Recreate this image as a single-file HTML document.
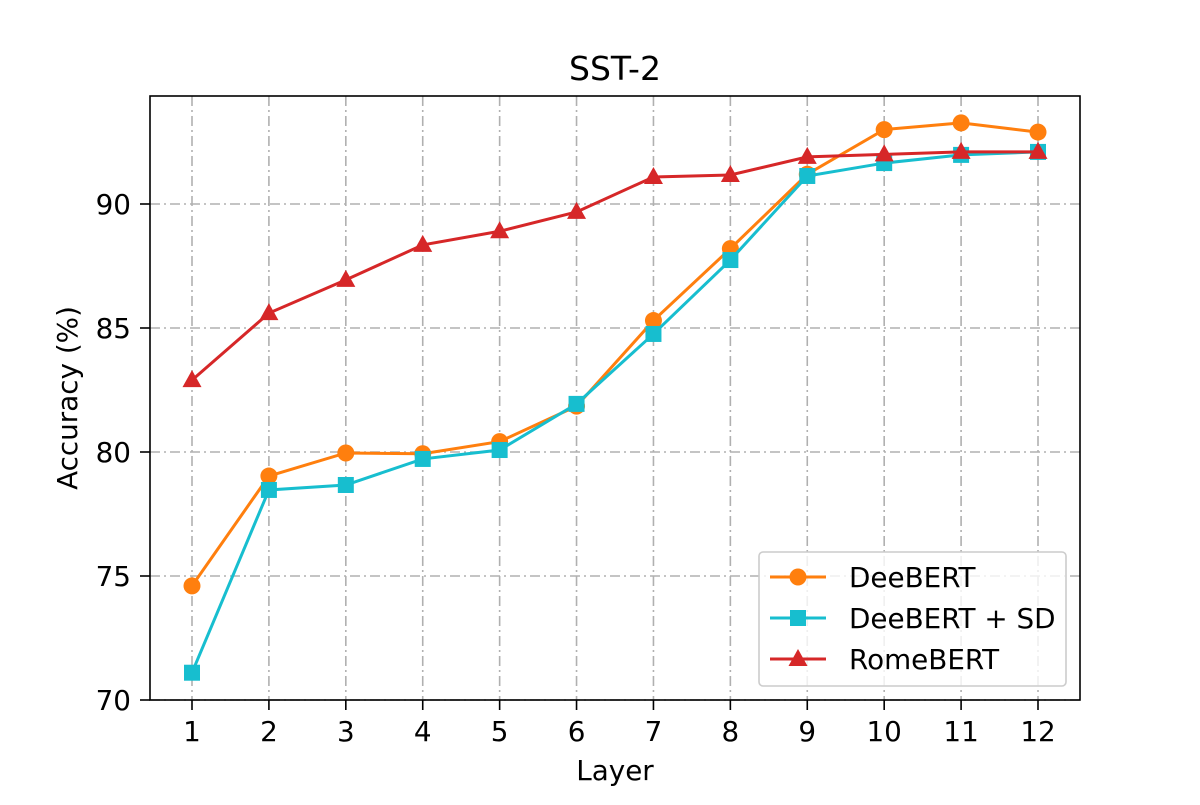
<!DOCTYPE html>
<html><head><meta charset="utf-8"><style>
body{margin:0;background:#fff;}
svg text{font-family:"DejaVu Sans","Liberation Sans",sans-serif;fill:#000;}
</style></head><body>
<svg id="chart" width="1200" height="800" viewBox="0 0 1200 800" xmlns="http://www.w3.org/2000/svg">
<rect width="1200" height="800" fill="#fff"/>
<g id="grid"></g>
<g id="series"></g>
<rect x="150" y="96" width="930" height="604" fill="none" stroke="#000" stroke-width="1.6"/>
<g id="ticks"></g>
<text x="615" y="80" font-size="33" text-anchor="middle">SST-2</text>
<text x="615" y="780" font-size="27.8" text-anchor="middle">Layer</text>
<text x="77" y="398" font-size="27.8" text-anchor="middle" transform="rotate(-90 77 398)">Accuracy (%)</text>
<g id="legend"></g>
</svg>
<script>
const layers=[1,2,3,4,5,6,7,8,9,10,11,12];
const yTicks=[70,75,80,85,90];
const deebert=[74.6,79.03,79.96,79.93,80.42,81.85,85.3,88.2,91.2,93.0,93.27,92.9];
const deebertSD=[71.1,78.47,78.67,79.72,80.08,81.94,84.76,87.74,91.13,91.65,91.98,92.1];
const romebert=[82.9,85.6,86.94,88.35,88.9,89.68,91.09,91.17,91.9,92.0,92.1,92.1];
const seriesNames=["DeeBERT","DeeBERT + SD","RomeBERT"];
const NS="http://www.w3.org/2000/svg";
const X=v=>192+(v-1)*(1038-192)/11;
const Y=v=>700-(v-70)*24.8;
function mk(t,a,p){const e=document.createElementNS(NS,t);for(const k in a)e.setAttribute(k,a[k]);p.appendChild(e);return e;}
const grid=document.getElementById('grid'),ticks=document.getElementById('ticks');
layers.forEach(l=>{
 const g=mk('line',{x1:X(l),x2:X(l),y1:96,y2:700,stroke:'#b0b0b0','stroke-width':1.6,'stroke-dasharray':'10 4 2 4'},grid);
 
 
 const t=mk('line',{x1:X(l),x2:X(l),y1:700,y2:710,stroke:'#000','stroke-width':1.6},ticks);
 
 
 const tx=mk('text',{x:X(l),y:741,'font-size':27.8,'text-anchor':'middle'},ticks);tx.textContent=l;
 
 
});
yTicks.forEach(v=>{
 const g=mk('line',{x1:150,x2:1080,y1:Y(v),y2:Y(v),stroke:'#b0b0b0','stroke-width':1.6,'stroke-dasharray':'10 4 2 4'},grid);
 
 
 const t=mk('line',{x1:140,x2:150,y1:Y(v),y2:Y(v),stroke:'#000','stroke-width':1.6},ticks);
 
 
 const tx=mk('text',{x:131,y:Y(v)+10,'font-size':27.8,'text-anchor':'end'},ticks);tx.textContent=v;
 
 
});
const colors=['#ff7f0e','#17becf','#d62728'];
const datas=[deebert,deebertSD,romebert];
const shapes=['circle','square','triangle'];
function marker(shape,x,y,c,p){
 let e;
 if(shape==='circle')e=mk('circle',{cx:x,cy:y,r:8.5,fill:c},p);
 else if(shape==='square')e=mk('rect',{x:x-8,y:y-8,width:16,height:16,fill:c},p);
 else e=mk('polygon',{points:`${x},${y-10} ${x+9.5},${y+7} ${x-9.5},${y+7}`,fill:c},p);
 return e;
}
const sg=document.getElementById('series');
datas.forEach((d,i)=>{
 const g=mk('g',{},sg);
 
 
 const pl=mk('polyline',{points:d.map((v,j)=>X(layers[j])+','+Y(v)).join(' '),fill:'none',stroke:colors[i],'stroke-width':3},g);
 
 
 d.forEach((v,j)=>{const m=marker(shapes[i],X(layers[j]),Y(v),colors[i],g);
  
  });
});
const lg=document.getElementById('legend');
mk('rect',{x:759,y:552,width:307,height:134,rx:4,fill:'#fff','fill-opacity':0.8,stroke:'#ccc','stroke-width':1.6},lg);
seriesNames.forEach((n,i)=>{
 const y=577+i*41;
 const e=mk('g',{},lg);
 
 
 mk('line',{x1:770,x2:826,y1:y,y2:y,stroke:colors[i],'stroke-width':3},e);
 marker(shapes[i],798,y,colors[i],e);
 const t=mk('text',{x:849,y:y+10,'font-size':27.8},e);t.textContent=n;
});
</script>
</body></html>
